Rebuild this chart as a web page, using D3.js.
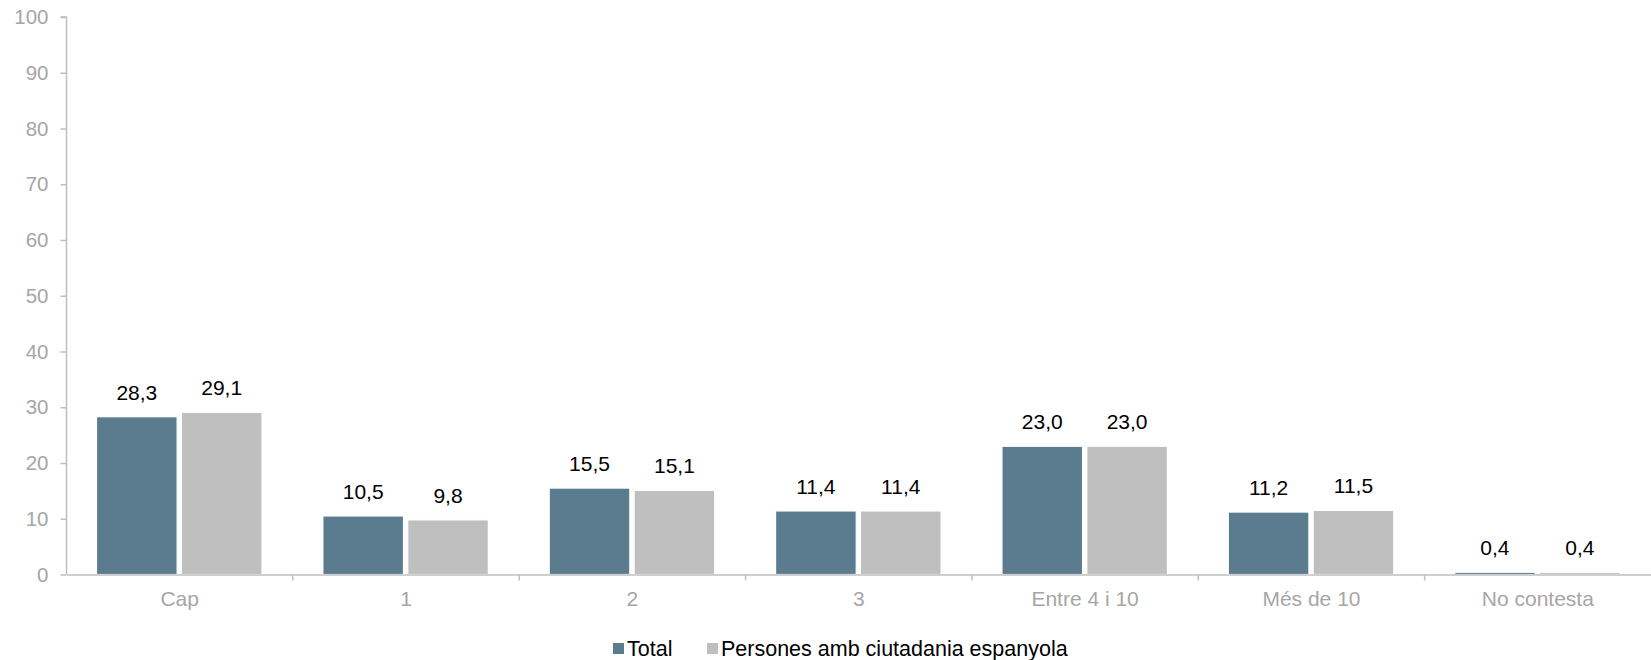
<!DOCTYPE html>
<html><head><meta charset="utf-8">
<script src="https://cdn.jsdelivr.net/npm/d3@7"></script>
<style>body{margin:0;background:#fff}svg{display:block}text{font-family:"Liberation Sans",Arial,sans-serif}</style>
</head><body>
<svg id="c" width="1651" height="660"></svg>
<script>
const categories = ["Cap","1","2","3","Entre 4 i 10","Més de 10","No contesta"];
const seriesNames = ["Total","Persones amb ciutadania espanyola"];
const totalValues = [28.3,10.5,15.5,11.4,23.0,11.2,0.4];
const espanyolaValues = [29.1,9.8,15.1,11.4,23.0,11.5,0.4];
const yTicks = [0,10,20,30,40,50,60,70,80,90,100];
const colors = ["#5b7b8f","#bfbfbf"];

(function(){
const svg = d3.select("#c");
const mLeft = 66.5, mRight = 1651, mTop = 17, mBottom = 574.5;
const x = d3.scaleBand().domain(categories).range([mLeft,mRight]).paddingInner(0).paddingOuter(0);
const x1 = d3.scaleBand().domain([0,1]).range([30,195.5]).paddingInner(0.05).paddingOuter(0);
const y = d3.scaleLinear().domain([0,100]).range([mBottom,mTop]);
const fmt = v => v.toFixed(1).replace(".",",");
const series = [totalValues, espanyolaValues];
const fs = "21px";

// y axis
const ya = svg.append("g").attr("transform",`translate(${mLeft},0)`).call(d3.axisLeft(y).tickValues(yTicks).tickSize(6).tickPadding(12));
ya.select(".domain").attr("stroke","#bfbfbf").attr("stroke-width",1.5).attr("d",`M-6,${mTop}H0V${mBottom}`);
ya.selectAll(".tick line").attr("stroke","#bfbfbf").attr("stroke-width",1.5);
ya.selectAll(".tick text").attr("fill","#a6a6a6").style("font-size","20.5px");

// bars
series.forEach((vals,si)=>{
  svg.append("g").selectAll("rect").data(vals).join("rect")
    .attr("x",(d,i)=>x(categories[i])+x1(si))
    .attr("width",x1.bandwidth())
    .attr("y",d=>y(d))
    .attr("height",d=>mBottom-y(d))
    .attr("fill",colors[si])
    .attr("stroke","#fff").attr("stroke-width",1.2);
  svg.append("g").selectAll("text").data(vals).join("text")
    .attr("x",(d,i)=>x(categories[i])+x1(si)+x1.bandwidth()/2)
    .attr("y",d=>y(d)-17)
    .attr("text-anchor","middle")
    .attr("fill","#000").style("font-size",fs)
    .text(d=>fmt(d));
});

// x axis
const xa = svg.append("g").attr("transform",`translate(0,${mBottom})`).call(d3.axisBottom(x).tickSize(0).tickPadding(17));
xa.select(".domain").attr("stroke","#bfbfbf").attr("stroke-width",1.5);
xa.selectAll(".tick text").attr("fill","#a6a6a6").style("font-size",fs);
svg.append("g").selectAll("line").data(categories.slice(1)).join("line")
  .attr("x1",d=>x(d)).attr("x2",d=>x(d)).attr("y1",mBottom).attr("y2",mBottom+6)
  .attr("stroke","#bfbfbf").attr("stroke-width",1.5);

// legend
const legendX = [613,707];
const lg = svg.append("g");
seriesNames.forEach((n,i)=>{
  lg.append("rect").attr("x",legendX[i]).attr("y",643).attr("width",11).attr("height",11).attr("fill",colors[i]);
  lg.append("text").attr("x",legendX[i]+14).attr("y",656).attr("fill","#000").style("font-size","21.5px").text(n);
});
})();
</script>
</body></html>
